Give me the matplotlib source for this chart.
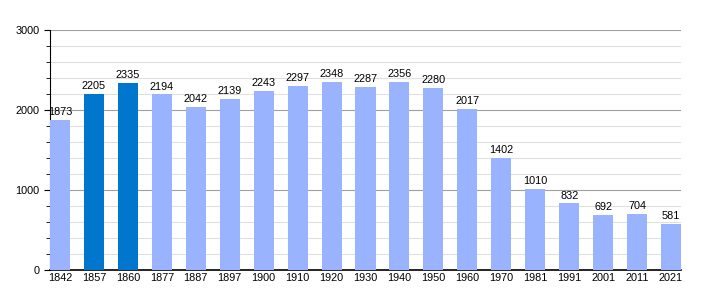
import matplotlib
matplotlib.use("Agg")
import matplotlib.pyplot as plt
from matplotlib.ticker import MultipleLocator

years = ["1842", "1857", "1860", "1877", "1887", "1897", "1900", "1910", "1920", "1930",
         "1940", "1950", "1960", "1970", "1981", "1991", "2001", "2011", "2021"]
population = [1873, 2205, 2335, 2194, 2042, 2139, 2243, 2297, 2348, 2287,
              2356, 2280, 2017, 1402, 1010, 832, 692, 704, 581]
highlight = ["1857", "1860"]

plt.rcParams['font.family'] = ['Liberation Sans', 'DejaVu Sans']

fig = plt.figure(figsize=(7.1, 3.0), dpi=100)
ax = fig.add_axes([50/710, 30/300, 631/710, 240/300])

w = 0.59
x = list(range(len(years)))
colors = ["#0077cc" if y in highlight else "#99b3ff" for y in years]
ax.bar(x, population, width=w, color=colors, zorder=3)
for xi, v in zip(x, population):
    ax.text(xi, v + 35, str(v), ha="center", va="bottom", fontsize=7.8, zorder=4)

ax.set_xlim(-w/2, len(years) - 1 + w/2)
ax.set_ylim(0, 3000)
ax.set_xticks(x)
ax.set_xticklabels(years, fontsize=7.8)
ax.yaxis.set_major_locator(MultipleLocator(1000))
ax.yaxis.set_minor_locator(MultipleLocator(200))
ax.tick_params(axis="y", labelsize=7.8, which="major", length=4, color="black")
ax.tick_params(axis="y", which="minor", length=3, color="black")
ax.tick_params(axis="x", length=0, pad=2)
ax.grid(axis="y", which="major", color="#a0a0a0", linewidth=0.8, zorder=0)
ax.grid(axis="y", which="minor", color="#e0e0e0", linewidth=0.8, zorder=0)
for s in ["top", "right"]:
    ax.spines[s].set_visible(False)
ax.spines["left"].set_color("black")
ax.spines["bottom"].set_color("black")
ax.spines["bottom"].set_linewidth(1.2)

fig.savefig("out.png", dpi=100)
